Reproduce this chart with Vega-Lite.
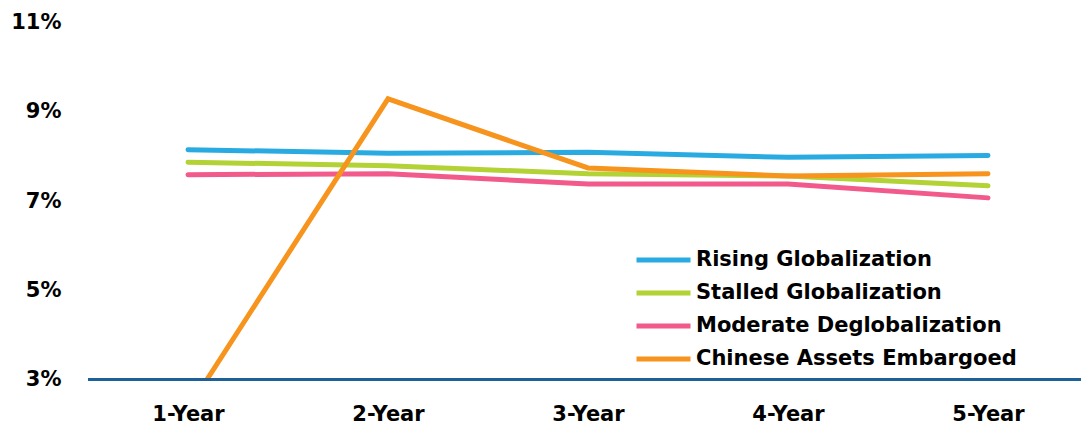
{
  "$schema": "https://vega.github.io/schema/vega-lite/v6.json",
  "autosize": {"type": "none"},
  "padding": {"left": 88, "top": 22.5, "right": 0, "bottom": 45.5},
  "width": 993,
  "height": 357,
  "background": "white",
  "config": {
    "view": {"stroke": null},
    "font": "DejaVu Sans"
  },
  "data": {
    "values": [
      {"scenario": "Rising Globalization", "horizon": "1-Year", "value": 8.15},
      {"scenario": "Rising Globalization", "horizon": "2-Year", "value": 8.07},
      {"scenario": "Rising Globalization", "horizon": "3-Year", "value": 8.09},
      {"scenario": "Rising Globalization", "horizon": "4-Year", "value": 7.98},
      {"scenario": "Rising Globalization", "horizon": "5-Year", "value": 8.02},
      {"scenario": "Stalled Globalization", "horizon": "1-Year", "value": 7.87},
      {"scenario": "Stalled Globalization", "horizon": "2-Year", "value": 7.79},
      {"scenario": "Stalled Globalization", "horizon": "3-Year", "value": 7.61},
      {"scenario": "Stalled Globalization", "horizon": "4-Year", "value": 7.56},
      {"scenario": "Stalled Globalization", "horizon": "5-Year", "value": 7.34},
      {"scenario": "Moderate Deglobalization", "horizon": "1-Year", "value": 7.59},
      {"scenario": "Moderate Deglobalization", "horizon": "2-Year", "value": 7.61},
      {"scenario": "Moderate Deglobalization", "horizon": "3-Year", "value": 7.38},
      {"scenario": "Moderate Deglobalization", "horizon": "4-Year", "value": 7.38},
      {"scenario": "Moderate Deglobalization", "horizon": "5-Year", "value": 7.07},
      {"scenario": "Chinese Assets Embargoed", "horizon": "1-Year", "value": 2.34},
      {"scenario": "Chinese Assets Embargoed", "horizon": "2-Year", "value": 9.29},
      {"scenario": "Chinese Assets Embargoed", "horizon": "3-Year", "value": 7.74},
      {"scenario": "Chinese Assets Embargoed", "horizon": "4-Year", "value": 7.56},
      {"scenario": "Chinese Assets Embargoed", "horizon": "5-Year", "value": 7.61}
    ]
  },
  "layer": [
    {
      "mark": {"type": "line", "strokeWidth": 5, "strokeCap": "round", "strokeJoin": "miter", "clip": true},
      "encoding": {
        "x": {
          "field": "horizon",
          "type": "ordinal",
          "sort": ["1-Year", "2-Year", "3-Year", "4-Year", "5-Year"],
          "scale": {"type": "point", "range": [100, 900], "padding": 0},
          "axis": {
            "title": null,
            "domain": false,
            "ticks": false,
            "tickSize": 0,
            "labelPadding": 24,
            "labelAngle": 0,
            "labelFont": "DejaVu Sans",
            "labelFontWeight": "bold",
            "labelFontSize": 21,
            "labelColor": "#000000"
          }
        },
        "y": {
          "field": "value",
          "type": "quantitative",
          "scale": {"domain": [3, 11], "nice": false, "zero": false},
          "axis": {
            "title": null,
            "values": [3, 5, 7, 9, 11],
            "labelExpr": "datum.value + '%'",
            "domain": false,
            "ticks": false,
            "tickSize": 0,
            "grid": false,
            "labelPadding": 27,
            "labelFont": "DejaVu Sans",
            "labelFontWeight": "bold",
            "labelFontSize": 21,
            "labelColor": "#000000"
          }
        },
        "color": {
          "field": "scenario",
          "type": "nominal",
          "sort": ["Rising Globalization", "Stalled Globalization", "Moderate Deglobalization", "Chinese Assets Embargoed"],
          "scale": {
            "domain": ["Rising Globalization", "Stalled Globalization", "Moderate Deglobalization", "Chinese Assets Embargoed"],
            "range": ["#29abe2", "#b2d235", "#f15a8a", "#f7941d"]
          },
          "legend": {
            "title": null,
            "orient": "none",
            "legendX": 559.5,
            "legendY": 221.5,
            "padding": 0,
            "symbolType": "M-2,0H2",
            "symbolSize": 729,
            "symbolStrokeWidth": 5,
            "labelFont": "DejaVu Sans",
            "labelFontWeight": "bold",
            "labelFontSize": 21,
            "labelColor": "#000000",
            "labelOffset": 16.5,
            "labelLimit": 0,
            "rowPadding": 7
          }
        }
      }
    },
    {
      "mark": {"type": "rule", "color": "#1f6196", "strokeWidth": 1.5},
      "encoding": {
        "y": {"datum": 3}
      }
    }
  ]
}
